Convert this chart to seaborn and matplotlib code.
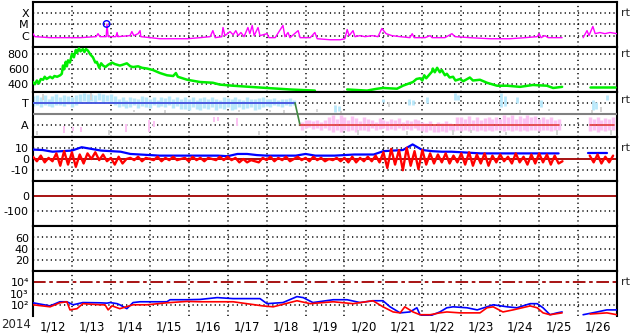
import numpy as np
import pandas as pd
import matplotlib
matplotlib.use("Agg")
import matplotlib.pyplot as plt
import matplotlib.transforms as mtransforms
import seaborn as sns

sns.set_theme(style="white")
plt.rcParams['font.family'] = ['DejaVu Sans']

# ---------------- data (time in days since 2014-01-12 00:00) ----------------
day_labels = ['1/12', '1/13', '1/14', '1/15', '1/16', '1/17', '1/18', '1/19',
              '1/20', '1/21', '1/22', '1/23', '1/24', '1/25', '1/26']
year_label = '2014'

# Panel 1: X-ray flux (W/m^2)
xray_t = [0.00, 0.05, 0.44, 0.82, 1.21, 1.62, 1.67, 1.72, 1.88, 1.90, 1.93, 2.13, 2.16, 2.18,
          2.49, 2.54, 2.59, 2.70, 2.75, 2.77, 3.01, 3.26, 3.65, 3.96, 4.29, 4.55, 4.62, 4.68,
          4.85, 4.88, 4.93, 5.06, 5.14, 5.21, 5.27, 5.34, 5.42, 5.52, 5.57, 5.63, 5.68, 5.78,
          5.83, 6.01, 6.06, 6.22, 6.42, 6.47, 6.55, 6.60, 6.81, 6.86, 7.12, 7.24, 7.30, 7.63,
          7.89, 8.01, 8.07, 8.12, 8.22, 8.27, 8.40, 8.53, 8.71, 8.86, 8.96, 9.07, 9.22, 9.43,
          9.68, 9.74, 9.79, 10.07, 10.20, 10.25, 10.58, 10.76, 10.84, 11.22, 11.74, 12.25,
          12.64, 12.95, 13.00, 13.05, 13.15, 13.23, 13.59, 13.80, 14.13, 14.23, 14.28, 14.38,
          14.44, 14.56, 14.69, 14.82, 15.00]
xray_f = [1.5e-6, 8.1e-7, 6.6e-7, 6.6e-7, 6.6e-7, 8.1e-7, 1.5e-6, 8.1e-7, 8.1e-7, 1.1e-5, 8.1e-7,
          8.1e-7, 1.9e-6, 8.1e-7, 1.0e-6, 2.3e-6, 1.0e-6, 1.5e-6, 2.8e-6, 8.1e-7, 6.6e-7, 5.3e-7,
          5.3e-7, 5.3e-7, 6.6e-7, 8.1e-7, 2.8e-6, 6.6e-7, 8.1e-7, 5.3e-6, 1.0e-6, 2.3e-6, 1.2e-6,
          2.8e-6, 1.0e-6, 1.9e-6, 8.1e-7, 5.3e-6, 1.5e-6, 8.1e-6, 1.0e-6, 5.3e-6, 1.0e-6, 1.5e-6,
          6.6e-7, 6.6e-7, 8.1e-6, 8.1e-7, 1.9e-6, 6.6e-7, 2.8e-6, 6.6e-7, 6.6e-7, 1.9e-6, 5.3e-7,
          4.3e-7, 4.3e-7, 5.3e-7, 3.5e-6, 1.0e-6, 2.8e-6, 8.1e-7, 1.0e-6, 8.1e-7, 1.0e-6, 8.1e-7,
          4.3e-6, 1.5e-6, 1.0e-6, 8.1e-7, 6.6e-7, 1.5e-6, 6.6e-7, 6.6e-7, 1.0e-6, 6.6e-7, 6.6e-7,
          1.5e-6, 8.1e-7, 6.6e-7, 5.3e-7, 5.3e-7, 6.6e-7, 8.1e-7, 1.5e-6, 6.6e-7, 1.0e-6, 6.6e-7,
          6.6e-7, np.nan, 6.6e-7, 2.8e-6, 1.0e-6, 6.6e-6, 1.5e-6, 1.9e-6, 1.5e-6, 1.9e-6, 1.5e-6]
flare_t = [1.89]
flare_f = [1.1e-5]

# Panel 2: solar wind speed (km/s)
speed_t = [0.00, 0.05, 0.10, 0.15, 0.20, 0.26, 0.30, 0.35, 0.44, 0.50, 0.55, 0.62, 0.70, 0.74,
           0.77, 0.80, 0.84, 0.87, 0.90, 0.95, 1.00, 1.05, 1.10, 1.13, 1.18, 1.22, 1.28, 1.32,
           1.36, 1.41, 1.47, 1.54, 1.60, 1.64, 1.70, 1.75, 1.80, 1.86, 1.93, 2.03, 2.10, 2.23,
           2.30, 2.41, 2.50, 2.57, 2.70, 2.80, 2.93, 3.08, 3.26, 3.44, 3.60, 3.67, 3.72, 3.96,
           4.29, 4.62, 4.80, 5.14, 5.57, 6.01, 6.60, 7.24, 7.50, 8.07, 8.58, 8.84, 8.99, 9.35,
           9.50, 9.76, 9.85, 9.94, 10.00, 10.05, 10.10, 10.20, 10.25, 10.27, 10.32, 10.38, 10.45,
           10.50, 10.58, 10.63, 10.70, 10.79, 10.85, 10.97, 11.05, 11.22, 11.30, 11.48, 11.66,
           11.92, 12.18, 12.51, 12.84, 13.20, 13.36, 13.59, 13.80, 14.31, 14.95]
speed_v = [430, 400, 450, 410, 470, 460, 500, 470, 500, 480, 510, 500, 520, 540,
           650, 600, 700, 640, 720, 690, 810, 760, 860, 820, 880, 840, 870, 830,
           870, 850, 800, 760, 690, 700, 620, 680, 650, 630, 660, 690, 670, 650,
           660, 680, 640, 630, 640, 620, 610, 590, 550, 520, 510, 550, 500, 460,
           430, 420, 395, 380, 365, 350, 330, 315, np.nan, 330, 315, 340, 350, 340,
           380, 430, 470, 480, 450, 520, 480, 540, 570, 610, 560, 620, 560,
           590, 520, 540, 490, 500, 450, 470, 440, 490, 450, 460, 420,
           380, 380, 365, 390, 380, 350, 365, np.nan, 365, 365]

# Panel 3: IMF angle (deg); sector lines and point clouds
sector_T, sector_A, sector_mid = 315, 135, 225
sector_switch = [6.73, 6.86]
cyan_t = [round(0.1 * i, 1) for i in range(68)]
cyan_lo = [290, 300, 285, 300, 290, 280, 295, 300, 290, 305, 285, 300, 320, 330, 325, 330, 320,
           335, 325, 330, 320, 300, 280, 290, 276, 285, 300, 276, 290, 285, 276, 300, 280, 290,
           285, 300, 276, 290, 265, 270, 262, 280, 270, 260, 275, 265, 285, 262, 275, 270, 280,
           260, 270, 285, 265, 275, 280, 262, 270, 285, 290, 284, 295, 290, 285, 295, 290, 300]
cyan_hi = [370, 380, 360, 375, 350, 370, 385, 365, 378, 370, 360, 380, 390, 392, 385, 390, 380,
           392, 385, 380, 388, 370, 350, 362, 340, 365, 355, 345, 370, 360, 350, 362, 340, 365,
           355, 370, 350, 360, 345, 360, 350, 362, 340, 355, 365, 345, 360, 350, 340, 362, 355,
           345, 362, 350, 340, 360, 350, 345, 355, 362, 350, 345, 354, 340, 350, 345, 354, 340]
pink_t = [round(6.9 + 0.1 * i, 1) for i in range(67)] + [14.3, 14.4, 14.5, 14.6, 14.7, 14.8, 14.9]
pink_lo = [100, 110, 119, 104, 115, 100, 110, 95, 85, 100, 80, 95, 88, 100, 85, 95, 100, 88, 110,
           95, 104, 110, 100, 104, 95, 110, 100, 104, 95, 110, 100, 90, 80, 95, 85, 80, 90, 85,
           95, 88, 100, 90, 100, 88, 95, 90, 100, 88, 95, 90, 100, 95, 88, 100, 90, 95, 88, 100,
           90, 95, 100, 88, 95, 100, 90, 95, 100, 90, 95, 85, 100, 90, 95, 100]
pink_hi = [160, 180, 182, 170, 182, 160, 175, 205, 215, 190, 220, 200, 180, 210, 195, 170, 200,
           190, 180, 165, 198, 180, 170, 190, 175, 198, 165, 180, 170, 190, 175, 160, 150, 166,
           140, 160, 150, 166, 155, 140, 200, 205, 190, 210, 180, 200, 175, 195, 205, 185, 200,
           190, 215, 200, 220, 185, 210, 195, 221, 200, 210, 190, 205, 185, 200, 180, 190, 205,
           190, 200, 180, 195, 185, 200]
pinkL_t = [0.80, 1.03, 1.23, 2.39, 2.98, 3.11, 4.65, 4.75, 5.24]
pinkL_lo = [72, 88, 80, 80, 80, 119, 158, 170, 127]
pinkL_hi = [127, 119, 119, 143, 182, 166, 205, 200, 198]
cyanR_t = [7.75, 7.85, 8.99, 9.65, 9.75, 10.12, 10.85, 10.92, 12.02, 12.12, 12.43, 13.05,
           14.38, 14.45, 14.74]
cyanR_lo = [245, 250, 320, 300, 300, 315, 338, 340, 284, 290, 315, 284, 260, 270, 338]
cyanR_hi = [300, 290, 345, 350, 340, 362, 393, 380, 393, 370, 362, 338, 338, 320, 378]
gray_t = [0.10, 0.25, 1.50, 1.95, 2.60, 3.40, 5.30, 5.80, 6.10, 6.45, 7.30, 7.90, 8.35, 9.15,
          9.60, 10.80, 11.25, 12.15, 12.50, 13.25, 13.45, 14.35, 14.60, 14.85]
gray_lo = [60, 340, 340, 60, 240, 235, 245, 60, 240, 235, 240, 225, 60, 280, 60, 60, 70, 60,
           230, 250, 60, 230, 240, 60]
gray_hi = [90, 390, 395, 95, 260, 255, 262, 90, 258, 255, 270, 250, 95, 320, 90, 100, 100, 85,
           260, 270, 100, 260, 280, 100]

# Panel 4: IMF Bt (blue, every 6 h) and Bz (red, every 2.4 h), nT
bt_step = 0.25
bt_v = [8.4, 8, 6.5, 7, 7.5, 10.5, 9, 7.5, 7, 6.5,
        4.5, 4, 3.5, 3, 3, 3, 3, 3, 3, 3,
        2.5, 4.5, 4.5, 3.5, 3, 3, 3, 3, 4.5, 3,
        3, 3, 3.5, 4, 4, 4, 7, 7.5, 8, 13,
        8, 7, 6.5, 6.5, 6, 5.5, 5, 5, 5, 5,
        5, 5, 5, 5, 5, np.nan, np.nan, 5, 5, 5]
bz_step = 0.1
bz_v = [2, -2, 3, -3, 1, -2,
        5, -6, 7, -5, 6, -7, 4, -4,
        5, 0, 6, -1, 4, -2,
        1, -5, 2, -4, 0,
        1, -1, 2, -2, 1, 0, -1, 2, -2, 1, -1, 2, -1, 0, 1, -2, 2, -1, 1, -2, 1, 0, -1, 2, -1,
        2, -1, 1, -3, 0, -3, -1, -2, -3, 1, -1, 2, -2, 1, -1, 2, -2, 0, 2, -1,
        1, -2, 2, -1, 1, -2, 0, -1, 1, -2, 1, -3, 2, -3, 1, -2, 2, -2, 3, -3,
        6, -8, 9, -5, 8, -10, 10, -6, 7, -9,
        8, -5, 5, -4, 4, -3, 5, -4, 3, -3,
        5, -5, 6, -6, 4, -4, 5, -6, 3, -3, 4, -2, 2,
        -4, 5, -3, 2, -5, 4, -4, 5, -3, 4, -5, 3, -4,
        -2, np.nan, np.nan, np.nan, np.nan, np.nan, np.nan,
        3, -3, 4, -4, 2, -3, 3]

# Panel 7: particle fluxes (log)
blue7_t = [0.00, 0.44, 0.69, 0.87, 1.03, 1.28, 1.72, 1.90, 1.98, 2.16, 2.23, 2.41, 2.57, 2.75,
           3.44, 3.52, 3.96, 4.29, 4.73, 5.14, 5.83, 6.01, 6.42, 6.78, 6.94, 7.19, 7.71, 8.07,
           8.40, 8.73, 8.99, 9.17, 9.43, 9.68, 9.86, 9.94, 10.20, 10.27, 10.45, 10.63, 10.79,
           11.15, 11.41, 11.66, 11.82, 12.18, 12.43, 12.77, 12.95, 13.10, 13.28, 13.46, 13.59,
           13.80, 14.13, 14.49, 14.74, 15.00]
blue7_v = [150, 80, 186, 186, 100, 158, 150, 140, 158, 126, 100, 45, 158, 186,
           186, 282, 282, 300, 437, 355, 355, 126, 158, 537, 437, 158, 282, 282,
           158, 229, 229, 66, 19, 23, 54, 13, 10, 13, 23, 54, 66,
           54, 35, 66, 100, 66, 54, 126, 126, 54, 13, 19, 23,
           np.nan, 13, 23, 35, 35]
red7_t = [0.00, 0.44, 0.69, 0.87, 0.95, 1.13, 1.28, 1.72, 1.85, 1.93, 2.03, 2.23, 2.57, 2.93,
          3.44, 3.96, 4.29, 5.14, 5.91, 6.17, 6.78, 7.12, 7.71, 8.22, 8.73, 8.99, 9.25, 9.43,
          9.55, 9.76, 9.94, 10.20, 10.45, 10.63, 10.97, 11.48, 11.66, 11.82, 12.07, 12.33,
          12.77, 12.95, 13.10, 13.28, 13.59, 13.80, 14.31, 14.74, 15.00]
red7_v = [100, 66, 151, 186, 35, 45, 126, 100, 100, 35, 80, 45, 100, 100,
          151, 200, 186, 186, 79, 66, 229, 126, 186, 126, 229, 66, 23, 19,
          66, 23, 13, 13, 19, 23, 19, 19, 54, 66, 23, 35,
          79, 54, 19, 13, 19, np.nan, 15, 19, 13]
alert_level = 1e4

# ---------------- figure layout ----------------
W, H = 633, 334
fig = plt.figure(figsize=(W / 100, H / 100), dpi=100)
fig.patch.set_facecolor('white')
left_px, right_px, top_px, bot_px = 33, 617, 2, 316
n = 7
ph = (bot_px - top_px) / n
axes = []
for i in range(n):
    y0 = top_px + i * ph
    ax = fig.add_axes([left_px / W, 1 - (y0 + ph) / H, (right_px - left_px) / W, ph / H])
    ax.set_facecolor('white')
    axes.append(ax)

DOT = (0, (0.8, 2.1))
YFS = 8


def seg_line(ax, t, v, color, lw, zorder=3):
    df = pd.DataFrame({'t': t, 'v': v})
    grp = df['v'].isna().cumsum()
    ok = df['v'].notna()
    for _, g in df[ok].groupby(grp[ok]):
        if len(g) > 1:
            sns.lineplot(data=g, x='t', y='v', ax=ax, color=color, lw=lw, estimator=None,
                         sort=False, legend=False, zorder=zorder)


def style(ax, ylim, ticks, labels, dotted, log=False):
    if log:
        ax.set_yscale('log')
    ax.set_xlim(0, 15)
    ax.set_ylim(*ylim)
    ax.set_yticks(ticks)
    ax.set_yticklabels(labels)
    ax.minorticks_off()
    ax.set_xticks([])
    ax.set_xlabel('')
    ax.set_ylabel('')
    for lv in dotted:
        ax.axhline(lv, color='black', lw=1.1, ls=DOT, zorder=1)
    for d in range(1, 15):
        ax.axvline(d, color='black', lw=1.1, ls=DOT, zorder=1)
    for s in ax.spines.values():
        s.set_color('black')
        s.set_linewidth(1.5)
    ax.tick_params(axis='both', length=0, labelsize=YFS, pad=3, colors='black')


def rt(ax, yval):
    tr = mtransforms.blended_transform_factory(ax.transAxes, ax.transData)
    ax.text(1.006, yval, 'rt', transform=tr, fontsize=8, va='center', ha='left')


# Panel 1: X-ray
ax = axes[0]
seg_line(ax, xray_t, xray_f, '#ff00ff', 1.0)
sns.scatterplot(x=flare_t, y=flare_f, ax=ax, marker='o', s=22, facecolor='none',
                edgecolor='#0000ff', linewidth=1.0, zorder=4, legend=False)
style(ax, (1e-7, 1e-3), [1e-4, 1e-5, 1e-6], ['X', 'M', 'C'], [1e-4, 1e-5, 1e-6], log=True)
rt(ax, 1e-4)

# Panel 2: speed
ax = axes[1]
seg_line(ax, speed_t, speed_v, '#00ee00', 1.8)
style(ax, (300, 900), [800, 600, 400], ['800', '600', '400'], [800, 600, 400])
rt(ax, 800)

# Panel 3: sector / angle
ax = axes[2]
ax.vlines(cyan_t, cyan_lo, cyan_hi, color='#b8e8fb', lw=2.5, zorder=2)
ax.vlines(cyanR_t, cyanR_lo, cyanR_hi, color='#b8e8fb', lw=2.0, zorder=2)
ax.vlines(pink_t, pink_lo, pink_hi, color='#fcc2f3', lw=2.5, zorder=2)
ax.vlines(pinkL_t, pinkL_lo, pinkL_hi, color='#fcc2f3', lw=1.4, zorder=2)
ax.vlines(gray_t, gray_lo, gray_hi, color='#d4d4d4', lw=1.4, zorder=2)
ax.axhline(sector_mid, color='#808080', lw=1.5, zorder=3)
seg_line(ax, [0, sector_switch[0]], [sector_T, sector_T], '#4a5ae0', 1.4, zorder=4)
seg_line(ax, sector_switch, [sector_T, sector_A], '#3f8a3f', 1.2, zorder=4)
seg_line(ax, [sector_switch[1], 13.5], [sector_A, sector_A], '#e03a3a', 1.2, zorder=4)
seg_line(ax, [14.31, 14.92], [sector_A, sector_A], '#e03a3a', 1.2, zorder=4)
style(ax, (45, 405), [sector_T, sector_A], ['T', 'A'], [sector_T, sector_A])
rt(ax, 335)

# Panel 4: Bt / Bz
ax = axes[3]
ax.axhline(0, color='#a00000', lw=1.3, zorder=2)
bt_t = np.arange(len(bt_v)) * bt_step
bz_t = np.arange(len(bz_v)) * bz_step
seg_line(ax, bt_t, bt_v, '#0000ff', 1.6, zorder=3)
seg_line(ax, bz_t, bz_v, '#ff0000', 1.7, zorder=4)
style(ax, (-20, 20), [10, 0, -10], ['10', '0', '-10'], [10, -10])
rt(ax, 10)

# Panel 5
ax = axes[4]
ax.axhline(0, color='#a00000', lw=1.3, zorder=2)
style(ax, (-200, 100), [0, -100], ['0', '-100'], [-100])

# Panel 6
ax = axes[5]
style(ax, (0, 80), [60, 40, 20], ['60', '40', '20'], [60, 40, 20])

# Panel 7: particle flux
ax = axes[6]
seg_line(ax, blue7_t, blue7_v, '#0000ff', 1.2, zorder=3)
seg_line(ax, red7_t, red7_v, '#ff0000', 1.2, zorder=4)
ax.axhline(alert_level, color='#a00000', lw=1.3, ls=(0, (7, 2, 2, 2)), zorder=2)
style(ax, (10, 1e5), [1e4, 1e3, 1e2], ['10\u2074', '10\u00b3', '10\u00b2'], [1e3, 1e2], log=True)
rt(ax, 1e4)
ax.spines['bottom'].set_visible(False)
ax.set_xticks([d + 0.5 for d in range(15)])
ax.set_xticklabels(day_labels)
ax.tick_params(axis='x', length=0, labelsize=8.5, pad=3)

fig.text(16 / W, 1 - 325 / H, year_label, fontsize=8.5, ha='center', va='center')

fig.savefig('out.png', dpi=100)
